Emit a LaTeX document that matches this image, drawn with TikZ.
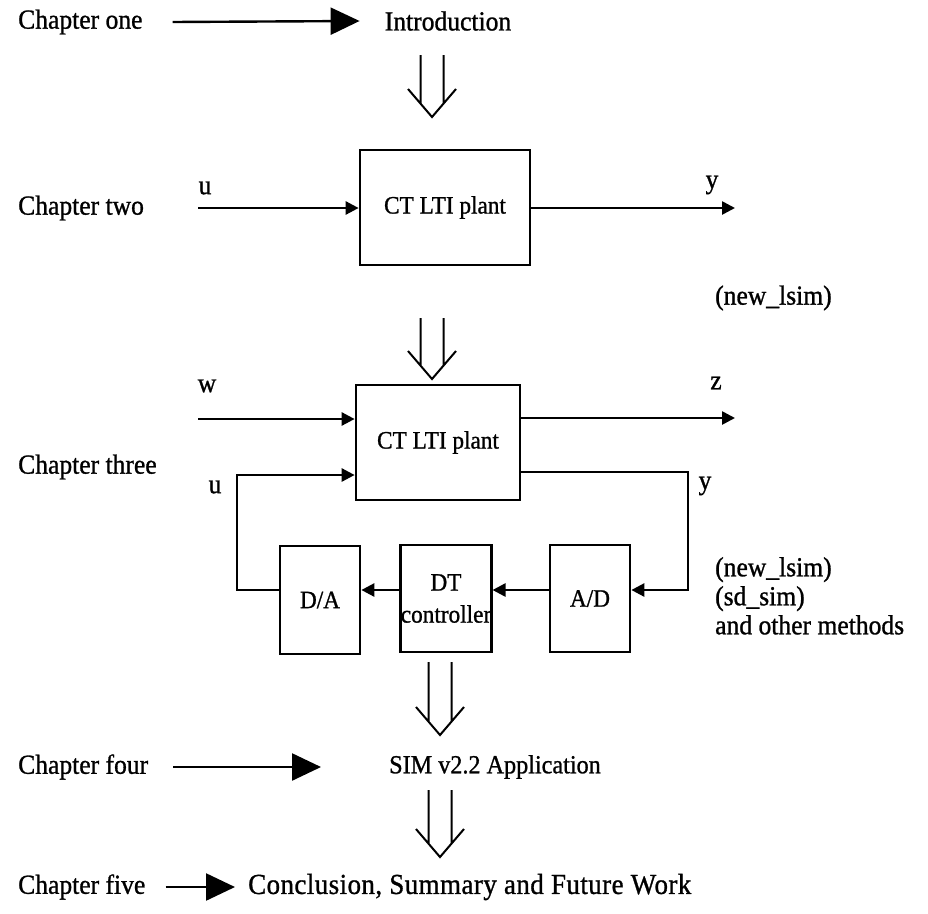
\documentclass[tikz,border=0pt]{standalone}
\usepackage{fontspec}
\setmainfont{Liberation Serif}[FakeBold=1.0, FakeStretch=0.93]
\usetikzlibrary{arrows.meta,calc}
% open double-line flow arrow: centre x, top y, tip y
\newcommand\flowarrow[3]{%
  \draw[flow] (#1-11.5,#2) -- (#1-11.5,#3-14) (#1+11.5,#2) -- (#1+11.5,#3-14)
              (#1-24,#3-28) -- (#1,#3) -- (#1+24,#3-28);}
\begin{document}
\begin{tikzpicture}[x=1pt,y=-1pt,
  every node/.style={font=\fontsize{27.5}{30}\selectfont, inner sep=0pt},
  boxtext/.style={font=\fontsize{25}{32}\selectfont},
  blk/.style n args={2}{draw, line width=2.7pt, minimum width=#1, minimum height=#2, align=center, boxtext},
  sig/.style={line width=2.6pt, -{Triangle[length=13pt,width=13pt]}},
  chap/.style={line width=2.4pt, -{Triangle[length=29pt,width=27pt]}},
  flow/.style={line width=2pt}
]
\useasboundingbox (0,0) rectangle (928,913);

% chapter labels
\node[anchor=west] (ch1) at (18,22) {Chapter one};
\node[anchor=west] (ch2) at (18,208) {Chapter two};
\node[anchor=west] (ch3) at (18,467) {Chapter three};
\node[anchor=west] (ch4) at (18,767) {Chapter four};
\node[anchor=west] (ch5) at (18,887) {Chapter five};

% stage texts
\node (intro) at (448,21) {Introduction};
\node[font=\fontsize{26}{30}\selectfont] (sim) at (495,767) {SIM v2.2 Application};
\node[anchor=west, font=\fontsize{29}{30}\selectfont\addfontfeature{LetterSpace=1.5}] (concl) at (248,887)
  {Conclusion, Summary and Future Work};

% chapter arrows
\draw[chap] ([xshift=30pt]ch1.east) -- ([xshift=-25pt]intro.west);
\draw[chap] ([xshift=25pt]ch4.east) -- ([xshift=-68pt]sim.west);
\draw[chap] ([xshift=20pt]ch5.east) -- ([xshift=-13pt]concl.west);

% blocks
\node[blk={170pt}{115pt}] (plant1) at (445,207.5) {CT LTI plant};
\node[blk={164pt}{115pt}] (plant2) at (438,442.5) {CT LTI plant};
\node[blk={80pt}{108pt}] (da) at (320,600) {D/A};
\node[blk={82pt}{107pt}] (dt) at (446,598.5) {DT\\controller};
\node[blk={80pt}{107pt}] (ad) at (590,598.5) {A/D};

% flow between stages
\flowarrow{432}{55}{117}
\flowarrow{432}{318}{379}
\flowarrow{440}{662}{735}
\flowarrow{440}{790}{857}

% chapter two signals
\coordinate (u1) at (198,208);
\coordinate (y1) at (735,208);
\draw[sig] (u1) -- (u1 -| plant1.west);
\draw[sig] (plant1.east |- y1) -- (y1);
\node (lu1) at (205,188) {u};
\node (ly1) at (712,185) {y};
\node[anchor=west] (ns1) at (715,298) {(new\_lsim)};

% chapter three signals
\coordinate (w2) at (198,419);
\coordinate (z2) at (735,418);
\coordinate (yc) at (688,472);
\coordinate (uc) at (237,475);
\draw[sig] (w2) -- (w2 -| plant2.west);
\draw[sig] (plant2.east |- z2) -- (z2);
\draw[sig] (plant2.east |- yc) -- (yc) |- (ad.east |- 0,590);
\draw[sig] (ad.west |- 0,590) -- (dt.east |- 0,590);
\draw[sig] (dt.west |- 0,590) -- (da.east |- 0,590);
\draw[sig] (da.west |- 0,590) -| (uc) -- (uc -| plant2.west);
\node (lw2) at (207,386) {w};
\node (lz2) at (716,383) {z};
\node (lu2) at (215,487) {u};
\node (ly2) at (705,486) {y};
\node[anchor=north west, align=left, font=\fontsize{27.5}{29}\selectfont] (methods) at (715,557)
  {(new\_lsim)\\(sd\_sim)\\and other methods};
\end{tikzpicture}
\end{document}
